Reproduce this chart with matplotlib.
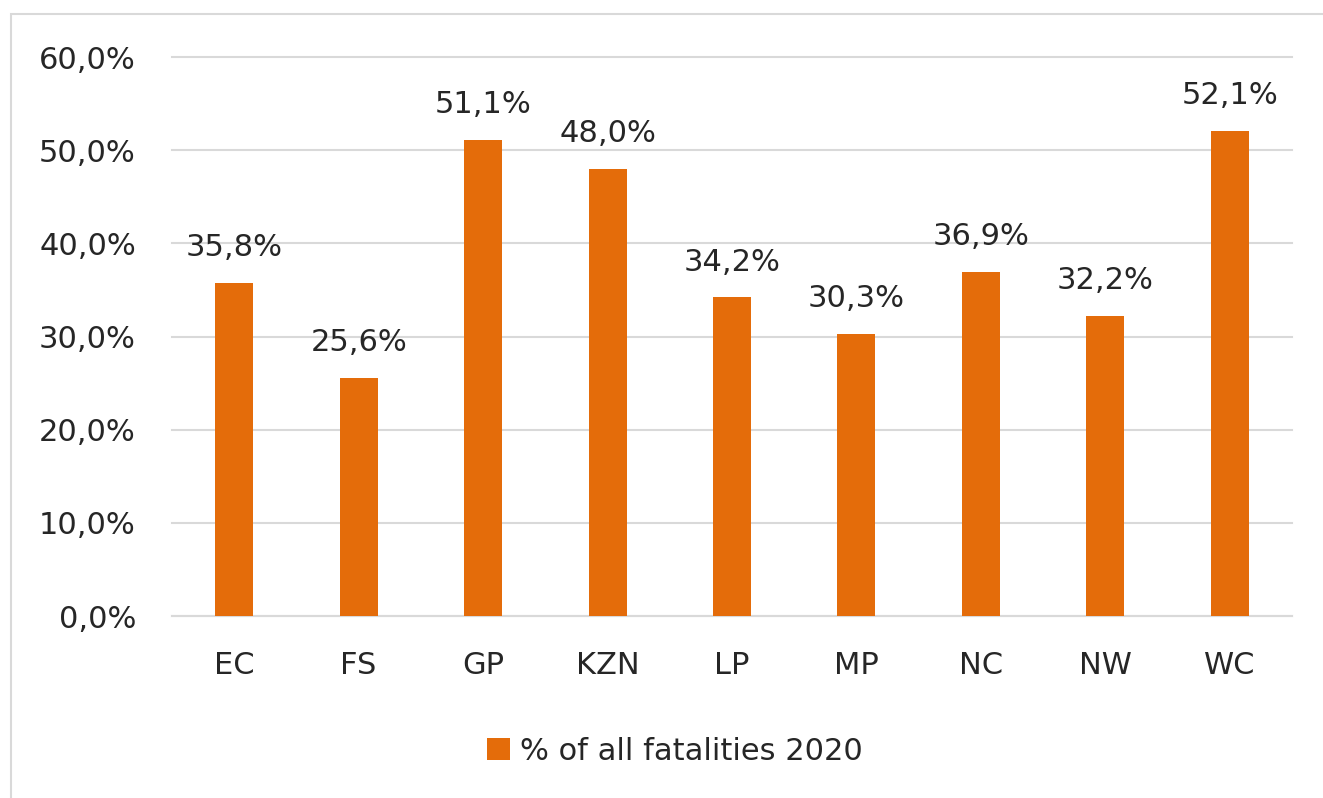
import matplotlib.pyplot as plt
from matplotlib.patches import Rectangle
from matplotlib.ticker import FuncFormatter

provinces = ["EC", "FS", "GP", "KZN", "LP", "MP", "NC", "NW", "WC"]
share_pct = [35.8, 25.6, 51.1, 48.0, 34.2, 30.3, 36.9, 32.2, 52.1]
series_name = "% of all fatalities 2020"

BAR_COLOR = "#E46C0A"
TEXT_COLOR = "#262626"
GRID_COLOR = "#D9D9D9"
FONT_SIZE = 22

plt.rcParams['font.family'] = ['DejaVu Sans']

fig = plt.figure(figsize=(13.23, 7.98), dpi=100)
ax = fig.add_axes([0.130, 0.228, 0.8466, 0.7005])

x = range(len(provinces))
bars = ax.bar(x, share_pct, width=0.305, color=BAR_COLOR, label=series_name, zorder=3)

for bar, val in zip(bars, share_pct):
    ax.annotate(f"{val:.1f}%".replace(".", ","),
                (bar.get_x() + bar.get_width() / 2, bar.get_height()),
                xytext=(0, 15), textcoords="offset points",
                ha="center", va="bottom", fontsize=FONT_SIZE, color=TEXT_COLOR)

ax.set_xlim(-0.5, len(provinces) - 0.5)
ax.set_ylim(0, 60)
ax.set_yticks(range(0, 61, 10))
ax.yaxis.set_major_formatter(FuncFormatter(lambda v, _: f"{v:.1f}%".replace(".", ",")))
ax.set_xticks(list(x))
ax.set_xticklabels(provinces)

ax.tick_params(axis="both", length=0, labelsize=FONT_SIZE, colors=TEXT_COLOR)
ax.tick_params(axis="y", pad=26)
ax.tick_params(axis="x", pad=25)

ax.yaxis.grid(True, color=GRID_COLOR, linewidth=1.5, zorder=0)
# keep the top gridline at full width instead of half-clipped
for gl in ax.get_ygridlines():
    gl.set_clip_on(False)
for side in ["top", "right", "left"]:
    ax.spines[side].set_visible(False)
ax.spines["bottom"].set_color(GRID_COLOR)
ax.spines["bottom"].set_linewidth(1.5)

ax.legend(loc="center", bbox_to_anchor=(0.449, -0.242), frameon=False,
          fontsize=FONT_SIZE, handlelength=0.75, handleheight=0.75, handletextpad=0.35,
          labelcolor=TEXT_COLOR)

# light frame around the chart area
fig.add_artist(Rectangle((11 / 1323, -0.02), 1.0, 1 - 14 / 798 + 0.02,
                         transform=fig.transFigure, fill=False,
                         edgecolor="#D9D9D9", linewidth=1.5, clip_on=False))

fig.savefig("out.png", dpi=100)
